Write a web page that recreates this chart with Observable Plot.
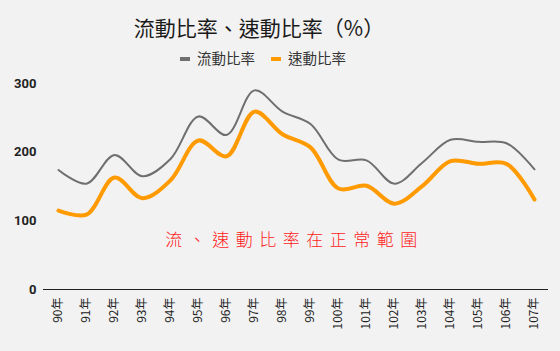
<!DOCTYPE html>
<html><head><meta charset="utf-8">
<script src="https://cdn.jsdelivr.net/npm/d3@7"></script>
<script src="https://cdn.jsdelivr.net/npm/@observablehq/plot@0.6"></script>
<style>
html,body{margin:0;padding:0;background:#f2f2f2;}
#wrap{width:560px;height:351px;position:relative;background:#f2f2f2;font-family:"Noto Sans CJK TC","Noto Sans",sans-serif;overflow:hidden;}
#title{position:absolute;left:0;width:518px;top:12px;text-align:center;font-size:21px;color:#1a1a1a;line-height:30px;font-weight:400;}
#legend{position:absolute;left:0;width:526px;top:48px;text-align:center;font-size:14.5px;color:#333;line-height:20px;}
#legend span.item{display:inline-block;margin:0 8px;}
#legend span.sw{display:inline-block;width:10px;height:4px;vertical-align:middle;margin-right:7px;position:relative;top:-1px;}
#chart{position:absolute;left:0;top:70px;}
</style></head>
<body><div id="wrap">
<div id="title">流動比率、速動比率（%）</div>
<div id="legend"></div>
<div id="chart"></div>
</div>
<script>
const years = ["90年","91年","92年","93年","94年","95年","96年","97年","98年","99年","100年","101年","102年","103年","104年","105年","106年","107年"];
const currentRatio = [174,154,196,165,190,252,225,290,259,241,189,188,154,185,218,215,213,175];
const quickRatio   = [115,109,163,133,159,217,194,259,226,207,147,151,125,151,187,183,183,131];
const seriesNames = ["流動比率","速動比率"];
const seriesColors = ["#6f6f6f","#ff9a00"];
const yTicks = [0,100,200,300];
const annotation = [{year:"98年", value:71, label:"流、速動比率在正常範圍"}];

const rows = [];
years.forEach((y,i)=>{
  rows.push({year:y, value:currentRatio[i], series:seriesNames[0]});
  rows.push({year:y, value:quickRatio[i], series:seriesNames[1]});
});

const legend = document.getElementById("legend");
seriesNames.forEach((n,i)=>{
  const s = document.createElement("span"); s.className="item";
  s.innerHTML = `<span class="sw" style="background:${seriesColors[i]}"></span>${n}`;
  legend.appendChild(s);
});

const plot = Plot.plot({
  width: 560, height: 281,
  marginTop: 13, marginBottom: 62, marginLeft: 43, marginRight: 12,
  style: {background: "transparent", fontFamily: "'Noto Sans CJK TC', 'Noto Sans', sans-serif"},
  x: {type: "point", domain: years, padding: 0.5, label: null},
  y: {domain: [0, 300], label: null},
  marks: [
    Plot.axisY({ticks: yTicks, tickSize: 0, tickPadding: 7, fontSize: 13, fontWeight: "bold", fontFamily: "Roboto, 'Liberation Sans', sans-serif", fill: "#222", label: null}),
    Plot.axisX({tickSize: 0, tickRotate: -90, tickPadding: 8, fontSize: 12, fill: "#222", label: null}),
    Plot.ruleY([0], {stroke: "#222", strokeWidth: 1.2}),
    Plot.line(rows.filter(d=>d.series===seriesNames[0]), {x:"year", y:"value", stroke: seriesColors[0], strokeWidth: 2, curve: "catmull-rom"}),
    Plot.line(rows.filter(d=>d.series===seriesNames[1]), {x:"year", y:"value", stroke: seriesColors[1], strokeWidth: 4, curve: "catmull-rom"}),
    Plot.text(annotation, {x:"year", y:"value", text:"label", dx: 12, fill: "#ff1a1a", fontSize: 17, fontWeight: 300,
      fontFamily: "'Noto Sans CJK TC', sans-serif"})
  ]
});
d3.select(plot).selectAll("g[aria-label='text'] text").style("letter-spacing", "6.5px");
document.getElementById("chart").appendChild(plot);
</script>
</body></html>
